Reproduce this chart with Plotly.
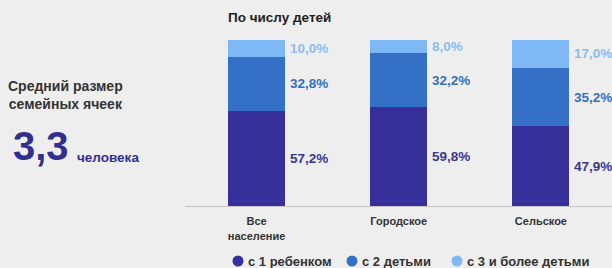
import plotly.graph_objects as go

categories = ["Все<br>население", "Городское", "Сельское"]
one_child = [57.2, 59.8, 47.9]
two_children = [32.8, 32.2, 35.2]
three_plus = [10.0, 8.0, 17.0]
series_names = ["с 1 ребенком", "с 2 детьми", "с 3 и более детьми"]
avg_size_text = "3,3"

colors = ["#37309A", "#3470C6", "#7EB9F6"]
label_colors = ["#3B3690", "#3470C0", "#8BBDF0"]

W, H = 612, 268
ML, MT, MB = 0, 40, 62
PH = H - MT - MB

def py(pix):  # pixel y from top -> paper y
    return (H - MB - pix) / PH

def px(pix):
    return pix / W

x = list(range(len(categories)))
series = [one_child, two_children, three_plus]

fig = go.Figure()
for vals, name, col in zip(series, series_names, colors):
    fig.add_trace(go.Bar(x=x, y=vals, marker_color=col, marker_line_width=0,
                         name=name, showlegend=False, hoverinfo="skip"))

# value labels at the right of each segment
for si, (vals, lc) in enumerate(zip(series, label_colors)):
    for i, v in enumerate(vals):
        base = sum(series[k][i] for k in range(si))
        fig.add_annotation(x=i + 0.2, y=base + v / 2, text=f"{v:.1f}%".replace(".", ","),
                           xanchor="left", yanchor="middle", xshift=3, showarrow=False,
                           font=dict(size=13.5, color=lc, family="Liberation Sans", weight="bold"))

fig.add_annotation(xref="paper", yref="paper", x=px(226), y=py(18), xanchor="left", yanchor="middle",
                   text="По числу детей", showarrow=False,
                   font=dict(size=13.5, color="#222222", family="Liberation Sans", weight="bold"))

# legend built from shapes + text
legend_circle_x = [238, 352, 457]
legend_text_x = [246, 360, 465]
legend_y = 261
for cx, tx, name, col in zip(legend_circle_x, legend_text_x, series_names, colors):
    fig.add_shape(type="circle", xref="paper", yref="paper", xsizemode="pixel", ysizemode="pixel",
                  xanchor=px(cx), yanchor=py(legend_y), x0=-5.5, x1=5.5, y0=-5.5, y1=5.5,
                  fillcolor=col, line_width=0)
    fig.add_annotation(xref="paper", yref="paper", x=px(tx), y=py(legend_y), xanchor="left",
                       yanchor="middle", text=name, showarrow=False,
                       font=dict(size=13, color="#333333", family="Liberation Sans", weight="bold"))

fig.update_layout(
    width=W, height=H,
    margin=dict(l=ML, r=0, t=MT, b=MB, autoexpand=False),
    paper_bgcolor="#EEEEEE", plot_bgcolor="#EEEEEE",
    barmode="stack", bargap=0.6, showlegend=False,
    font=dict(family="Liberation Sans", color="#333333"),
    xaxis=dict(domain=[0.303, 1.0], range=[-0.5, 2.5], tickvals=x, ticktext=categories,
               showline=True, linecolor="#C4C4C4", linewidth=1, showgrid=False, zeroline=False,
               ticks="", ticklabelstandoff=5,
               tickfont=dict(size=11, color="#333333", family="Liberation Sans", weight="bold")),
    yaxis=dict(range=[0, 100], visible=False, showgrid=False, zeroline=False),
)

# left text block
fig.add_annotation(xref="paper", yref="paper", x=px(6), y=py(95), xanchor="left", yanchor="middle",
                   text="Средний размер<br>семейных ячеек", showarrow=False, align="center",
                   font=dict(size=14, color="#333333", family="Liberation Sans", weight="bold"))
fig.add_annotation(xref="paper", yref="paper", x=px(11), y=py(146), xanchor="left", yanchor="middle",
                   text=avg_size_text, showarrow=False,
                   font=dict(size=40, color="#332F8F", family="Liberation Sans", weight="bold"))
fig.add_annotation(xref="paper", yref="paper", x=px(75), y=py(157), xanchor="left", yanchor="middle",
                   text="человека", showarrow=False,
                   font=dict(size=13.5, color="#332F8F", family="Liberation Sans", weight="bold"))

fig.write_html("out.html", config={"displayModeBar": False},
               post_script="document.body.style.margin='0';document.body.style.overflow='hidden';")
